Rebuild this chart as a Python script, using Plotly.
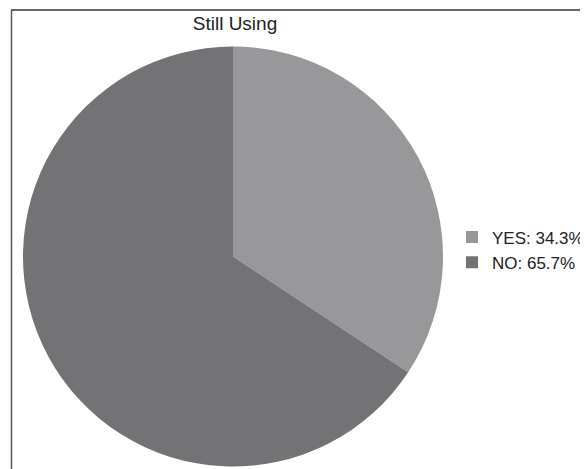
import plotly.graph_objects as go

W, H = 588, 469
OFF = 8  # page body margin offset

categories = ["YES", "NO"]
values = [34.3, 65.7]
colors = ["#98989b", "#737376"]
title_text = "Still Using"

legend_labels = [f"{c}: {v}%" for c, v in zip(categories, values)]

def px_x(x):
    return (x - OFF) / W

def px_y(y):
    return 1 - (y - OFF) / H

fig = go.Figure(
    go.Pie(
        labels=legend_labels,
        values=values,
        marker=dict(colors=colors, line=dict(width=0)),
        sort=False,
        direction="clockwise",
        rotation=0,
        textinfo="none",
        hoverinfo="label",
        domain=dict(x=[px_x(23), px_x(443)], y=[px_y(467), px_y(46)]),
    )
)

fig.update_layout(
    width=W,
    height=H,
    margin=dict(l=0, r=0, t=0, b=0),
    paper_bgcolor="white",
    plot_bgcolor="white",
    font=dict(family="Liberation Sans, Arial, sans-serif", size=17, color="#222222"),
    title=dict(
        text=title_text,
        x=px_x(235),
        xanchor="center",
        xref="paper",
        y=px_y(23),
        yref="container",
        yanchor="middle",
        font=dict(size=19, color="#222222"),
    ),
    legend=dict(
        x=px_x(452),
        xanchor="left",
        y=px_y(250),
        yanchor="middle",
        bgcolor="rgba(0,0,0,0)",
        font=dict(size=17, color="#222222"),
    ),
    shapes=[
        dict(type="line", xref="paper", yref="paper",
             x0=px_x(11), x1=1, y0=px_y(10), y1=px_y(10),
             line=dict(color="#333333", width=1.5)),
        dict(type="line", xref="paper", yref="paper",
             x0=px_x(11.5), x1=px_x(11.5), y0=0, y1=px_y(10),
             line=dict(color="#555555", width=1.5)),
    ],
)

fig.write_html("out.html")
